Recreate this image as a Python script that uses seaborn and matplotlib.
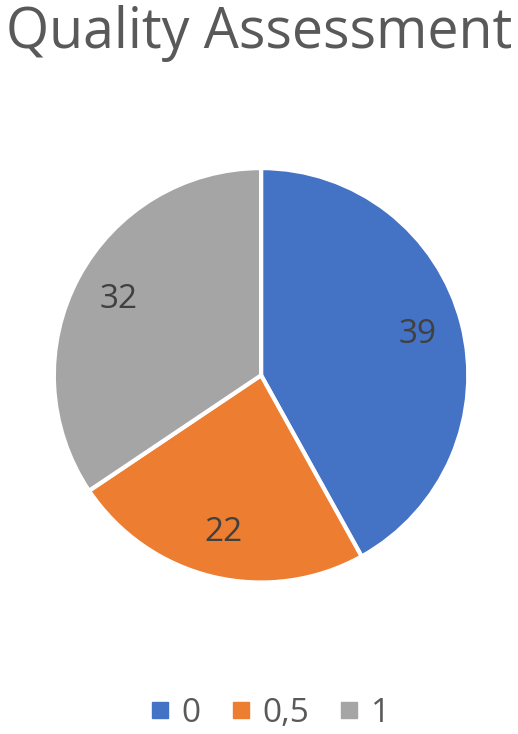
import matplotlib
matplotlib.use("Agg")
import matplotlib.pyplot as plt
from matplotlib.lines import Line2D
import seaborn as sns

sns.set_style("white")
plt.rcParams['font.family'] = ['Open Sans', 'DejaVu Sans']

categories = ['0', '0,5', '1']
counts = [39, 22, 32]
colors = sns.color_palette(['#4472C4', '#ED7D31', '#A5A5A5'])

fig = plt.figure(figsize=(5.18, 7.34), dpi=100)
fig.text(0.5, 0.955, 'Quality Assessment', ha='center', va='center',
         fontsize=40, color='#595959')

# pie area
ax = fig.add_axes([0.104, 0.2064, 0.8, 0.5646])
wedges, texts = ax.pie(counts, colors=colors, startangle=90, counterclock=False,
                       labels=[str(c) for c in counts], labeldistance=0.78,
                       wedgeprops=dict(edgecolor='white', linewidth=3),
                       textprops=dict(fontsize=24, color='#404040', ha='center', va='center'))
ax.set_xlim(-1.0, 1.0)
ax.set_ylim(-1.0, 1.0)
ax.set_aspect('equal')

handles = [Line2D([0], [0], marker='s', linestyle='', markersize=11,
                  markerfacecolor=c, markeredgecolor=c) for c in colors]
fig.legend(handles, categories, loc='center', bbox_to_anchor=(0.515, 0.028), ncol=3,
           frameon=False, fontsize=24, labelcolor='#595959',
           handletextpad=0.15, columnspacing=0.7, handlelength=1.0)

fig.savefig('out.png', dpi=100, facecolor='white')
